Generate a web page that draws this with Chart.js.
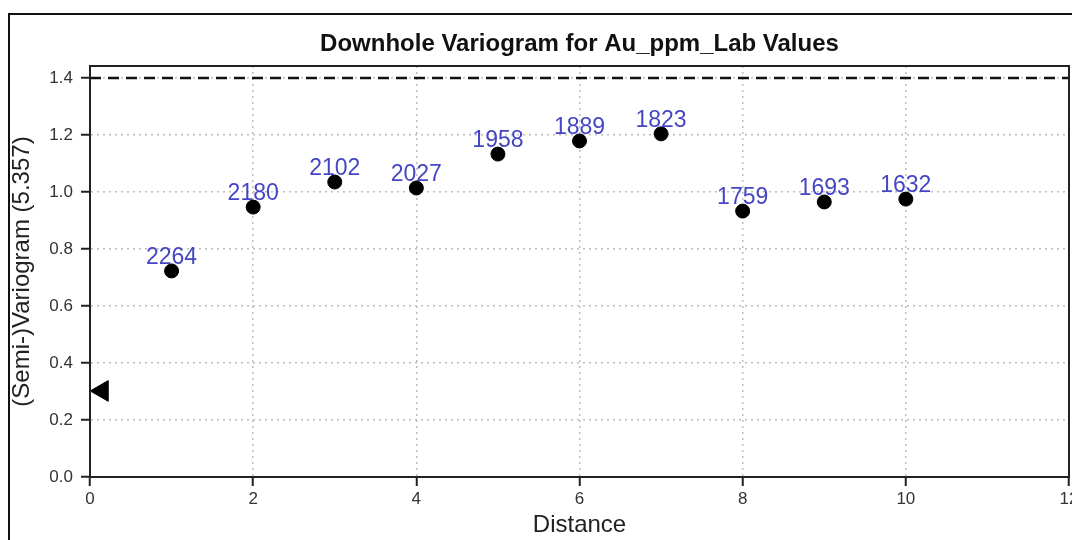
<!DOCTYPE html>
<html lang="en">
<head>
    <meta charset="UTF-8" />
    <title>Downhole Variogram</title>
    <style>
        body {
            margin: 0;
            background: #fff;
            font-family: "Liberation Sans", Arial, sans-serif;
        }
        .frame {
            position: absolute;
            left: 8px;
            top: 13px;
            width: 2000px;
            height: 2000px;
            border-left: 2px solid #111;
            border-top: 2px solid #111;
        }
        #chart {
            position: absolute;
            left: 0;
            top: 0;
        }
    </style>
</head>
<body>
    <div class="frame"></div>
    <canvas id="chart" width="1072" height="540"></canvas>

    <script src="https://cdn.jsdelivr.net/npm/chart.js"></script>
    <script>
        // lag distances, semivariogram values and number of pairs per lag
        const distances = [1, 2, 3, 4, 5, 6, 7, 8, 9, 10];
        const gammas = [0.723, 0.947, 1.035, 1.014, 1.133, 1.179, 1.204, 0.933, 0.965, 0.975];
        const pairCounts = [2264, 2180, 2102, 2027, 1958, 1889, 1823, 1759, 1693, 1632];

        // nugget marker and sill line
        const nuggetX = [0.15];
        const nuggetY = [0.302];
        const sillX = [0, 12];
        const sillY = [1.4, 1.4];

        const titleText = "Downhole Variogram for Au_ppm_Lab Values";
        const FONT = '"Liberation Sans", Arial, sans-serif';

        const toPoints = (xs, ys) => xs.map((x, i) => ({ x: x, y: ys[i] }));

        // pair count labels + title + box around plot
        const extras = {
            id: 'extras',
            afterDatasetsDraw(chart) {
                const { ctx, chartArea } = chart;
                const meta = chart.getDatasetMeta(1);
                ctx.save();
                ctx.fillStyle = '#4646c4';
                ctx.font = '23px ' + FONT;
                ctx.textAlign = 'center';
                ctx.textBaseline = 'alphabetic';
                meta.data.forEach((pt, i) => {
                    ctx.fillText(String(pairCounts[i]), pt.x, pt.y - 7);
                });

                ctx.strokeStyle = '#222';
                ctx.lineWidth = 2;
                ctx.strokeRect(chartArea.left, chartArea.top,
                    chartArea.right - chartArea.left, chartArea.bottom - chartArea.top);

                ctx.fillStyle = '#111';
                ctx.font = 'bold 24px ' + FONT;
                ctx.textBaseline = 'middle';
                ctx.fillText(titleText, (chartArea.left + chartArea.right) / 2, 44);
                ctx.restore();
            }
        };

        const gridOpts = {
            color: '#bdbdbd',
            lineWidth: 1.5,
            tickColor: '#222',
            tickWidth: 2,
            tickLength: 9,
            tickBorderDash: []
        };
        const borderOpts = { display: true, color: '#222', width: 2, dash: [2, 4] };

        new Chart(document.getElementById('chart'), {
            type: 'scatter',
            data: {
                datasets: [
                    {
                        type: 'line',
                        data: toPoints(sillX, sillY),
                        borderColor: '#111',
                        borderWidth: 2.5,
                        borderDash: [11, 7],
                        pointRadius: 0,
                        fill: false
                    },
                    {
                        data: toPoints(distances, gammas),
                        backgroundColor: '#000',
                        borderColor: '#000',
                        pointRadius: 7,
                        pointHoverRadius: 7
                    },
                    {
                        data: toPoints(nuggetX, nuggetY),
                        backgroundColor: '#000',
                        borderColor: '#000',
                        pointStyle: 'triangle',
                        rotation: -90,
                        pointRadius: 12,
                        pointHoverRadius: 12
                    }
                ]
            },
            options: {
                responsive: false,
                animation: false,
                layout: { autoPadding: false, padding: { top: 66, right: 3, bottom: 0, left: 0 } },
                plugins: {
                    legend: { display: false },
                    tooltip: { enabled: false },
                    title: { display: false }
                },
                scales: {
                    x: {
                        type: 'linear',
                        min: 0,
                        max: 12,
                        ticks: { stepSize: 2, color: '#333', font: { family: FONT, size: 17 }, padding: 3 },
                        grid: gridOpts,
                        border: borderOpts,
                        title: {
                            display: true,
                            text: 'Distance',
                            color: '#222',
                            font: { family: FONT, size: 24 },
                            padding: { top: 0, bottom: 0 }
                        },
                        afterFit(scale) {
                            scale.height = 63;
                            scale.paddingLeft = 0;
                            scale.paddingRight = 0;
                        }
                    },
                    y: {
                        type: 'linear',
                        min: 0,
                        max: 1.442,
                        ticks: {
                            stepSize: 0.2,
                            includeBounds: false,
                            color: '#333',
                            font: { family: FONT, size: 17 },
                            padding: 8,
                            callback: (v) => v.toFixed(1)
                        },
                        grid: gridOpts,
                        border: borderOpts,
                        title: {
                            display: true,
                            text: '(Semi-)Variogram (5.357)',
                            color: '#222',
                            font: { family: FONT, size: 24 },
                            padding: { top: 8, bottom: 0 }
                        },
                        afterFit(scale) {
                            scale.width = 90;
                            scale.paddingTop = 0;
                            scale.paddingBottom = 0;
                        }
                    }
                }
            },
            plugins: [extras]
        });
    </script>
</body>
</html>
